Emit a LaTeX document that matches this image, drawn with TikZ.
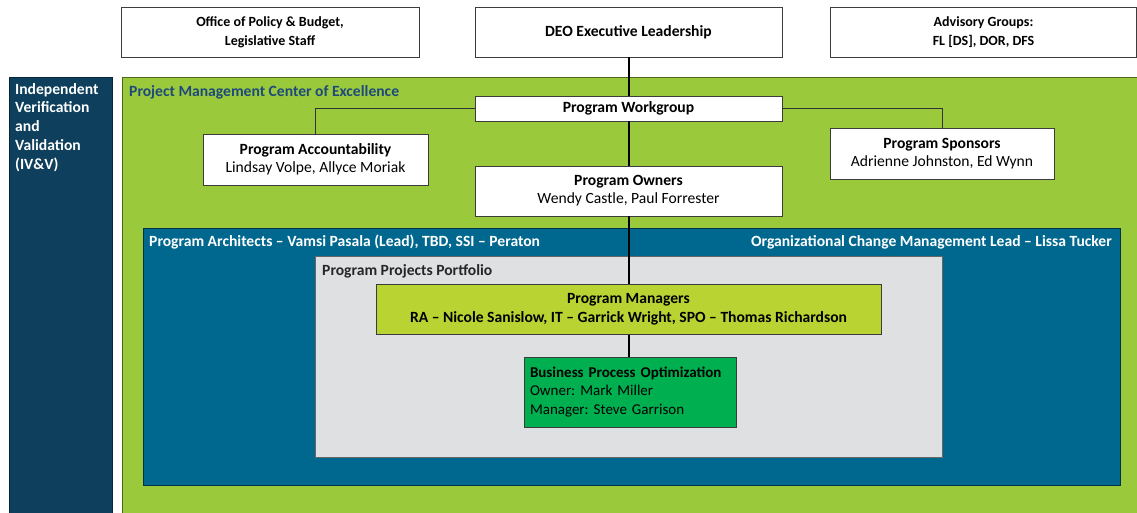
\documentclass[tikz,border=0pt]{standalone}
\usepackage{fontspec}
\setmainfont{Carlito}
\frenchspacing
\definecolor{pgreen}{RGB}{154,202,60}
\definecolor{pnavy}{RGB}{14,63,92}
\definecolor{pblue}{RGB}{0,104,143}
\definecolor{pgray}{RGB}{223,224,226}
\definecolor{plime}{RGB}{185,212,50}
\definecolor{pbpo}{RGB}{0,176,80}
\definecolor{ptitle}{RGB}{31,73,125}
\definecolor{pborder}{RGB}{60,60,60}
\tikzset{
  wbox/.style={draw=pborder, line width=0.9pt, fill=white, inner sep=0pt, align=center, font=\fontsize{15.6}{18}\selectfont},
  topbox/.style={wbox, minimum height=50pt, font=\fontsize{14}{19}\selectfont\bfseries},
  hdr/.style={inner sep=0pt, font=\fontsize{15.6}{18}\selectfont\bfseries},
  conn/.style={line width=2pt, black},
  thinconn/.style={line width=1pt, black!80},
}
\begin{document}
\begin{tikzpicture}[x=1pt,y=-1pt]
\useasboundingbox (0,0) rectangle (1137,512);
% top boxes
\node[topbox, minimum width=298pt] (office) at (270,32) {Office of Policy \& Budget,\\Legislative Staff};
\node[topbox, minimum width=307pt, font=\fontsize{15.6}{18}\selectfont\bfseries] (deo) at (628.5,32) {DEO Executive Leadership};
\node[topbox, minimum width=306pt] (adv) at (983.5,32) {Advisory Groups:\\FL [DS], DOR, DFS};
% containers
\path[fill=pnavy, draw=pnavy!60!black, line width=0.9pt] (9,77) rectangle (112,520);
\node[anchor=north west, inner sep=0pt, align=left, text=white, font=\fontsize{15.6}{18.8}\selectfont\bfseries] (ivv) at (15,83) {Independent\\Verification\\and\\Validation\\(IV\&V)};
\path[fill=pgreen, draw=pgreen!50!black, line width=0.9pt] (122,77) rectangle (1145,520);
\node[hdr, anchor=west, text=ptitle] (pmcoe) at (129,92) {Project Management Center of Excellence};
\path[fill=pblue, draw=pblue!50!black, line width=0.9pt] (143,228) rectangle (1120,485);
\node[hdr, anchor=west, text=white] (arch) at (149,242) {Program Architects – Vamsi Pasala (Lead), TBD, SSI – Peraton};
\node[hdr, anchor=east, text=white] (ocm) at (1112,242) {Organizational Change Management Lead – Lissa Tucker};
\path[fill=pgray, draw=black!60, line width=0.9pt] (315,256) rectangle (942,457);
\node[hdr, anchor=west, text=black!85] (ppp) at (322,271) {Program Projects Portfolio};
% boxes
\node[wbox, minimum width=307pt, minimum height=25pt, font=\fontsize{15.6}{18}\selectfont\bfseries] (wg) at (628.5,108.5) {Program Workgroup};
\node[wbox, minimum width=225pt, minimum height=51pt] (acc) at (315.5,159.5) {\textbf{Program Accountability}\\Lindsay Volpe, Allyce Moriak};
\node[wbox, minimum width=224pt, minimum height=51pt] (spons) at (942,153.5) {\textbf{Program Sponsors}\\Adrienne Johnston, Ed Wynn};
\node[wbox, minimum width=307pt, minimum height=50pt] (owners) at (628.5,191) {\textbf{Program Owners}\\Wendy Castle, Paul Forrester};
\node[wbox, fill=plime, minimum width=505pt, minimum height=50pt, font=\fontsize{15.6}{19}\selectfont\bfseries] (pm) at (628.5,309.5) {Program Managers\\RA – Nicole Sanislow, IT – Garrick Wright, SPO – Thomas Richardson};
\node[wbox, fill=pbpo, minimum width=212pt, minimum height=70pt, text width=200pt, align=left, font=\fontsize{15}{18.5}\selectfont] (bpo) at (630,392) {\textbf{Business Process Optimization}\\Owner: Mark Miller\\Manager: Steve Garrison};
% connectors
\draw[thinconn] (wg.west) -| (acc.north);
\draw[thinconn] (wg.east) -| (spons.north);
\draw[conn] (deo.south) -- (wg.north);
\draw[conn] (wg.south) -- (owners.north);
\draw[conn] (owners.south) -- (pm.north);
\draw[conn] (pm.south) -- (pm.south |- bpo.north);
\end{tikzpicture}
\end{document}
